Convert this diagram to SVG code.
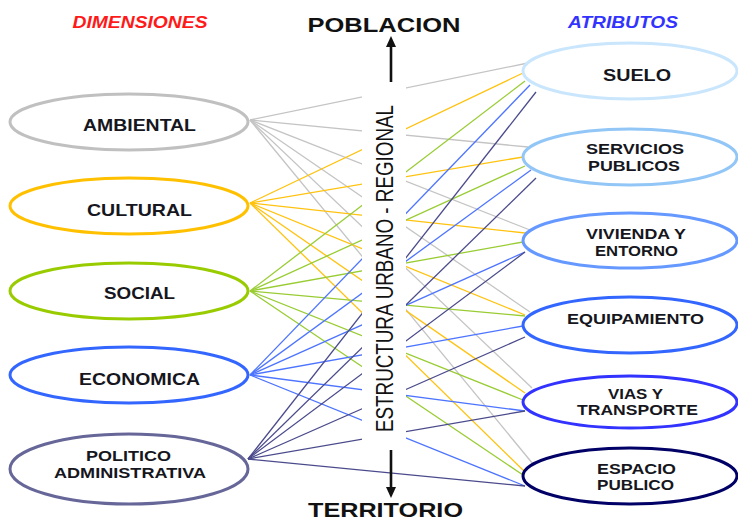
<svg xmlns="http://www.w3.org/2000/svg" width="738" height="520" viewBox="0 0 738 520">
<style>
.t{font-family:"Liberation Sans",Arial,sans-serif;font-weight:bold;fill:#161620;text-anchor:middle}
.n{font-size:17px}
.n2{font-size:15.5px}
.hd{font-family:"Liberation Sans",Arial,sans-serif;font-weight:bold;font-style:italic;font-size:16px;text-anchor:middle}
.big{font-family:"Liberation Sans",Arial,sans-serif;font-weight:bold;font-size:19.5px;fill:#111;text-anchor:middle}
.ell{fill:#fff;stroke-width:3}
.ln{fill:none;stroke-width:1.3}
.ga{stroke:#c4c4c4}.cu{stroke:#ffc20e}.so{stroke:#99cc33}.ec{stroke:#4d74ff}.po{stroke:#4a4a8c}
.arr{stroke:#111;stroke-width:2.6}
</style>
<defs>
<marker id="ah" markerUnits="userSpaceOnUse" markerWidth="11" markerHeight="10" refX="0" refY="5" orient="auto">
<path d="M0,0 L11,5 L0,10 z" fill="#111"/>
</marker>
</defs>
<rect width="738" height="520" fill="#fff"/>
<text class="hd" x="140" y="28" fill="#ff1a1a" textLength="135" lengthAdjust="spacingAndGlyphs">DIMENSIONES</text>
<text class="hd" x="623" y="28" fill="#3333ff" textLength="110" lengthAdjust="spacingAndGlyphs">ATRIBUTOS</text>
<g id="connectors">
<g class="ln ga">
<line x1="250" y1="120" x2="528" y2="63"/>
<line x1="250" y1="120" x2="528" y2="147"/>
<line x1="250" y1="120" x2="530" y2="230"/>
<line x1="250" y1="120" x2="530" y2="312"/>
<line x1="250" y1="120" x2="532" y2="388"/>
<line x1="250" y1="120" x2="533" y2="464"/>
</g>
<g class="ln cu">
<line x1="250" y1="203" x2="523" y2="73"/>
<line x1="250" y1="203" x2="523" y2="157"/>
<line x1="250" y1="203" x2="525" y2="233"/>
<line x1="250" y1="203" x2="525" y2="315"/>
<line x1="250" y1="203" x2="525" y2="393"/>
<line x1="250" y1="203" x2="525" y2="472"/>
</g>
<g class="ln so">
<line x1="250" y1="291" x2="525" y2="81"/>
<line x1="250" y1="291" x2="525" y2="166"/>
<line x1="250" y1="291" x2="523" y2="242"/>
<line x1="250" y1="291" x2="525" y2="316"/>
<line x1="250" y1="291" x2="523" y2="400"/>
<line x1="250" y1="291" x2="523" y2="475"/>
</g>
<g class="ln ec">
<line x1="250" y1="375" x2="530" y2="85"/>
<line x1="250" y1="375" x2="531" y2="170"/>
<line x1="250" y1="375" x2="525" y2="252"/>
<line x1="250" y1="375" x2="523" y2="326"/>
<line x1="250" y1="375" x2="525" y2="411"/>
<line x1="250" y1="375" x2="525" y2="486"/>
</g>
<g class="ln po">
<line x1="248" y1="459" x2="536" y2="92"/>
<line x1="248" y1="459" x2="536" y2="178"/>
<line x1="248" y1="459" x2="525" y2="252"/>
<line x1="248" y1="459" x2="525" y2="337"/>
<line x1="248" y1="459" x2="525" y2="411"/>
<line x1="248" y1="459" x2="525" y2="486"/>
</g>
</g>
<g id="eje">
<rect x="362" y="84" width="44" height="356" fill="#fff"/>
<text transform="translate(393,268.5) rotate(-90)" x="0" y="0" style="font-family:'Liberation Sans',Arial,sans-serif;font-size:23.7px;fill:#111;text-anchor:middle" textLength="327" lengthAdjust="spacingAndGlyphs">ESTRUCTURA URBANO - REGIONAL</text>
<line class="arr" x1="391" y1="82" x2="391" y2="47" marker-end="url(#ah)"/>
<line class="arr" x1="391" y1="450" x2="391" y2="487" marker-end="url(#ah)"/>
<text class="big" x="384" y="32" textLength="153" lengthAdjust="spacingAndGlyphs">POBLACION</text>
<text class="big" x="385.5" y="517" textLength="155" lengthAdjust="spacingAndGlyphs">TERRITORIO</text>
</g>
<g id="ambiental">
<ellipse class="ell" cx="129" cy="122" rx="119" ry="28" stroke="#c0c0c0"/>
<text class="t n" x="139.5" y="131" textLength="113" lengthAdjust="spacingAndGlyphs">AMBIENTAL</text>
</g>
<g id="cultural">
<ellipse class="ell" cx="129" cy="206" rx="119" ry="28" stroke="#ffc000"/>
<text class="t n" x="139.5" y="216" textLength="105" lengthAdjust="spacingAndGlyphs">CULTURAL</text>
</g>
<g id="social">
<ellipse class="ell" cx="129" cy="291" rx="119" ry="28" stroke="#99cc00"/>
<text class="t n" x="139.5" y="299" textLength="71" lengthAdjust="spacingAndGlyphs">SOCIAL</text>
</g>
<g id="economica">
<ellipse class="ell" cx="129" cy="375" rx="119" ry="28" stroke="#3366ff"/>
<text class="t n" x="139.5" y="385" textLength="121" lengthAdjust="spacingAndGlyphs">ECONOMICA</text>
</g>
<g id="politico">
<ellipse class="ell" cx="129" cy="469" rx="119" ry="35" stroke="#666699"/>
<text class="t n2" x="128.5" y="461" textLength="85" lengthAdjust="spacingAndGlyphs">POLITICO</text>
<text class="t n2" x="130" y="478" textLength="152" lengthAdjust="spacingAndGlyphs">ADMINISTRATIVA</text>
</g>
<g id="suelo">
<ellipse class="ell" cx="630" cy="71" rx="107" ry="28" stroke="#c9e6fd"/>
<text class="t n" x="637" y="81" textLength="68" lengthAdjust="spacingAndGlyphs">SUELO</text>
</g>
<g id="servicios">
<ellipse class="ell" cx="630" cy="157" rx="107" ry="28" stroke="#92c6f7"/>
<text class="t n2" x="635" y="154" textLength="98" lengthAdjust="spacingAndGlyphs">SERVICIOS</text>
<text class="t n2" x="634" y="171" textLength="92" lengthAdjust="spacingAndGlyphs">PUBLICOS</text>
</g>
<g id="vivienda">
<ellipse class="ell" cx="630" cy="240.5" rx="107" ry="27.5" stroke="#6699ff"/>
<text class="t n2" x="636" y="239" textLength="100" lengthAdjust="spacingAndGlyphs">VIVIENDA Y</text>
<text class="t n2" x="636.5" y="256" textLength="83" lengthAdjust="spacingAndGlyphs">ENTORNO</text>
</g>
<g id="equipamiento">
<ellipse class="ell" cx="630" cy="325" rx="107" ry="28" stroke="#3366ff"/>
<text class="t n2" x="635.5" y="324" textLength="137" lengthAdjust="spacingAndGlyphs">EQUIPAMIENTO</text>
</g>
<g id="vias">
<ellipse class="ell" cx="630" cy="402" rx="107" ry="26" stroke="#3333ff"/>
<text class="t n2" x="635.5" y="399" textLength="55" lengthAdjust="spacingAndGlyphs">VIAS Y</text>
<text class="t n2" x="637.5" y="415" textLength="121" lengthAdjust="spacingAndGlyphs">TRANSPORTE</text>
</g>
<g id="espacio">
<ellipse class="ell" cx="630" cy="476" rx="107" ry="28" stroke="#000066"/>
<text class="t n2" x="636.5" y="474" textLength="79" lengthAdjust="spacingAndGlyphs">ESPACIO</text>
<text class="t n2" x="635.5" y="490" textLength="77" lengthAdjust="spacingAndGlyphs">PUBLICO</text>
</g>
</svg>
